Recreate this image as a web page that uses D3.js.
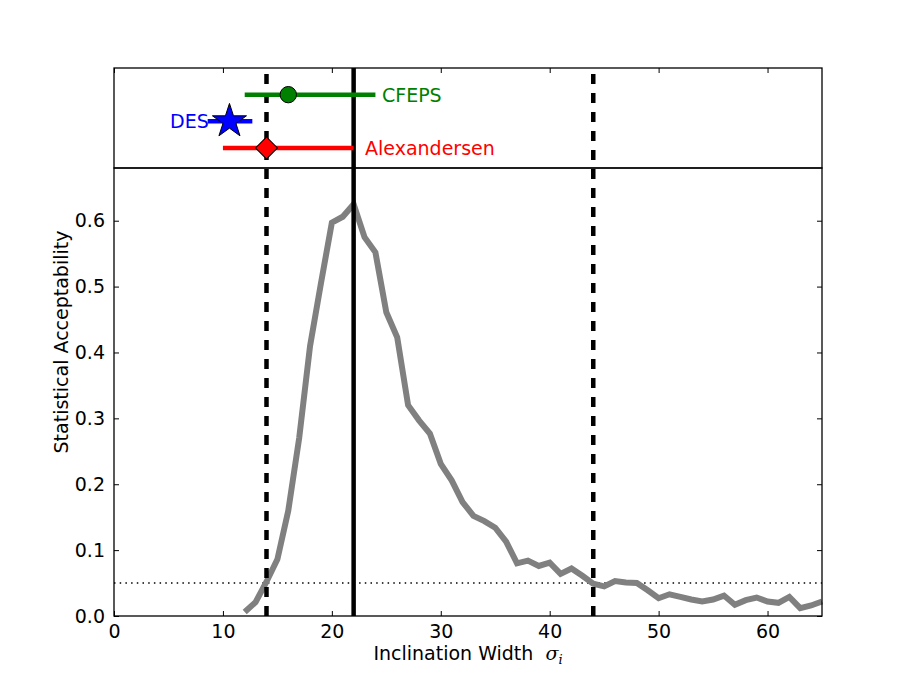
<!DOCTYPE html>
<html>
<head>
<meta charset="utf-8">
<script src="https://cdn.jsdelivr.net/npm/d3@7"></script>
<style>
  body { margin: 0; background: #fff; }
  text { font-family: "DejaVu Sans", sans-serif; }
</style>
</head>
<body>
<div id="chart"></div>
<script>
// curve: statistical acceptability vs inclination width
const widths = d3.range(12, 66);
const acceptability = [
  0.006, 0.021, 0.052, 0.086, 0.160, 0.270, 0.410, 0.505, 0.597, 0.606,
  0.625, 0.575, 0.552, 0.461, 0.423, 0.320, 0.297, 0.277, 0.231, 0.206,
  0.173, 0.152, 0.144, 0.134, 0.113, 0.080, 0.084, 0.076, 0.081, 0.064,
  0.072, 0.061, 0.049, 0.045, 0.053, 0.051, 0.050, 0.039, 0.027, 0.033,
  0.029, 0.025, 0.022, 0.025, 0.031, 0.017, 0.024, 0.028, 0.022, 0.020,
  0.029, 0.012, 0.016, 0.022
];

// survey estimates shown in the top panel
const surveys = ["CFEPS", "DES", "Alexandersen"];
const surveyRow = [3, 2, 1];
const surveyBest = [16, 10.6, 14];
const surveyLow = [12, 8.6, 10];
const surveyHigh = [24, 12.7, 22];
const surveyColor = ["green", "blue", "red"];
const surveyMarker = ["circle", "star", "diamond"];

const dashedLines = [14, 44];
const bestFit = 22;
const threshold = 0.05;

const xTicks = [0, 10, 20, 30, 40, 50, 60];
const yTicks = [0, 0.1, 0.2, 0.3, 0.4, 0.5, 0.6];

const W = 913, H = 685;
const left = 114, right = 822;
const topY = 68, midY = 168, bottomY = 616;
const fontSize = "19px";

const svg = d3.select("#chart").append("svg")
    .attr("width", W)
    .attr("height", H);

const x = d3.scaleLinear().domain([0, 65]).range([left, right]);
const y = d3.scaleLinear().domain([0, 0.68]).range([bottomY, midY]);
const yTop = d3.scaleLinear().domain([0.25, 4]).range([midY, topY]);

// threshold line
svg.append("line")
    .attr("x1", left).attr("x2", right)
    .attr("y1", y(threshold)).attr("y2", y(threshold))
    .attr("stroke", "black")
    .attr("stroke-width", 1.5)
    .attr("stroke-dasharray", "1.5,4.2");

// acceptability curve
const line = d3.line()
    .x((d, i) => x(widths[i]))
    .y(d => y(d));

svg.append("path")
    .datum(acceptability)
    .attr("d", line)
    .attr("fill", "none")
    .attr("stroke", "#808080")
    .attr("stroke-width", 6)
    .attr("stroke-linejoin", "miter");

// vertical lines through both panels
svg.selectAll(".vdash")
    .data(dashedLines)
    .enter()
    .append("line")
    .attr("class", "vdash")
    .attr("x1", d => x(d)).attr("x2", d => x(d))
    .attr("y1", bottomY).attr("y2", topY)
    .attr("stroke", "black")
    .attr("stroke-width", 4.5)
    .attr("stroke-dasharray", "10,9");

svg.append("line")
    .attr("x1", x(bestFit)).attr("x2", x(bestFit))
    .attr("y1", bottomY).attr("y2", topY)
    .attr("stroke", "black")
    .attr("stroke-width", 4.5);

// survey error bars
surveys.forEach((name, i) => {
    const cy = yTop(surveyRow[i]);
    svg.append("line")
        .attr("x1", x(surveyLow[i])).attr("x2", x(surveyHigh[i]))
        .attr("y1", cy).attr("y2", cy)
        .attr("stroke", surveyColor[i])
        .attr("stroke-width", 4.5);

    let sym;
    if (surveyMarker[i] == "circle") sym = d3.symbol(d3.symbolCircle, 210);
    else if (surveyMarker[i] == "star") sym = d3.symbol(d3.symbolStar, 360);
    else sym = d3.symbol(d3.symbolSquare, 240);

    svg.append("path")
        .attr("d", sym())
        .attr("transform", `translate(${x(surveyBest[i])},${cy})` + (surveyMarker[i] == "diamond" ? " rotate(45)" : ""))
        .attr("fill", surveyColor[i])
        .attr("stroke", "black")
        .attr("stroke-width", 1);
});

// survey labels
svg.append("text")
    .attr("x", x(24.6)).attr("y", yTop(3))
    .attr("dy", "0.36em")
    .attr("fill", "green")
    .style("font-size", fontSize)
    .text("CFEPS");

svg.append("text")
    .attr("x", x(8.7)).attr("y", yTop(2))
    .attr("dy", "0.36em")
    .attr("text-anchor", "end")
    .attr("fill", "blue")
    .style("font-size", fontSize)
    .text("DES");

svg.append("text")
    .attr("x", x(23.05)).attr("y", yTop(1))
    .attr("dy", "0.36em")
    .attr("fill", "red")
    .style("font-size", fontSize)
    .text("Alexandersen");

// axes (ticks point inward)
const xAxis = svg.append("g")
    .attr("transform", `translate(0,${bottomY})`)
    .call(d3.axisBottom(x).tickValues(xTicks).tickSize(-5).tickPadding(9).tickFormat(d3.format("d")));

const yAxis = svg.append("g")
    .attr("transform", `translate(${left},0)`)
    .call(d3.axisLeft(y).tickValues(yTicks).tickSize(-5).tickPadding(9).tickFormat(d3.format(".1f")));

const yAxisR = svg.append("g")
    .attr("transform", `translate(${right},0)`)
    .call(d3.axisRight(y).tickValues(yTicks).tickSize(-5).tickFormat(""));

const xAxisTop = svg.append("g")
    .attr("transform", `translate(0,${topY})`)
    .call(d3.axisTop(x).tickValues(xTicks).tickSize(-5).tickFormat(""));

[xAxis, yAxis, yAxisR, xAxisTop].forEach(g => {
    g.select(".domain").remove();
    g.selectAll("line").attr("stroke", "black").attr("stroke-width", 1);
    g.selectAll("text")
        .style("font-size", fontSize)
        .style("font-family", "DejaVu Sans, sans-serif")
        .attr("fill", "black");
});

// frames
svg.append("rect")
    .attr("x", left).attr("y", midY)
    .attr("width", right - left).attr("height", bottomY - midY)
    .attr("fill", "none").attr("stroke", "black").attr("stroke-width", 1.3);

svg.append("rect")
    .attr("x", left).attr("y", topY)
    .attr("width", right - left).attr("height", midY - topY)
    .attr("fill", "none").attr("stroke", "black").attr("stroke-width", 1.3);

// axis labels
const xLabel = svg.append("text")
    .attr("x", (left + right) / 2)
    .attr("y", 660)
    .attr("text-anchor", "middle")
    .style("font-size", fontSize);
xLabel.append("tspan").text("Inclination Width\u00a0\u00a0");
xLabel.append("tspan")
    .style("font-family", "DejaVu Serif, serif")
    .style("font-style", "italic")
    .text("σ");
xLabel.append("tspan")
    .attr("dy", 4)
    .style("font-family", "DejaVu Serif, serif")
    .style("font-style", "italic")
    .style("font-size", "13px")
    .text("i");

svg.append("text")
    .attr("transform", `translate(68,${(topY + bottomY) / 2}) rotate(-90)`)
    .attr("text-anchor", "middle")
    .style("font-size", fontSize)
    .text("Statistical Acceptability");
</script>
</body>
</html>
